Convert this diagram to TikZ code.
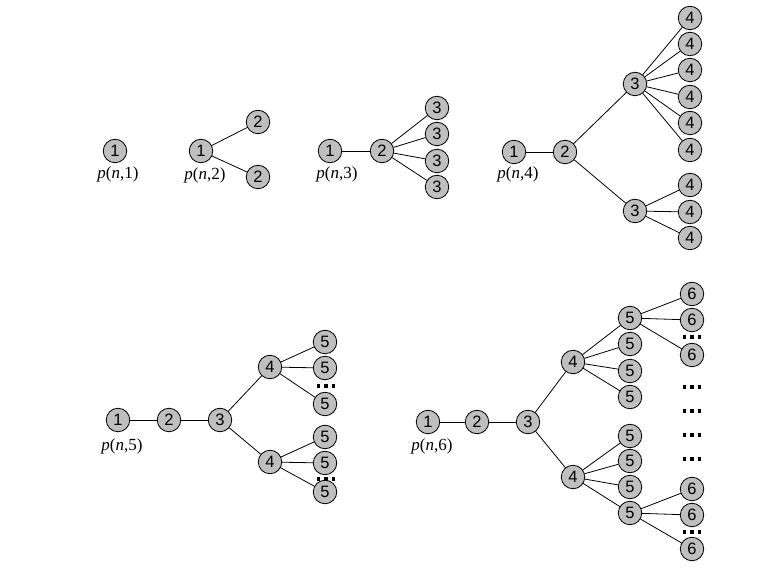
\documentclass[tikz,border=0pt]{standalone}
\usepackage{fontspec}
\setmainfont{Liberation Serif}
\setsansfont{Liberation Sans}
% three square dots standing for omitted leaves
\newcommand{\gapdots}[2]{\foreach \dx in {-7.5,0,7.5}{\fill (#1+\dx-1.7,#2-1.7) rectangle +(3.4,3.4);}}
\begin{document}
\begin{tikzpicture}[x=1pt,y=-1pt,line cap=round,line join=round,
  vtx/.style={circle,draw,fill=gray!50,line width=0.8pt,minimum size=23.5pt,inner sep=0pt,
    font=\sffamily\fontsize{16.5}{16.5}\selectfont},
  lbl/.style={font=\fontsize{17}{17}\selectfont},
  edge/.style={line width=0.8pt}]
\useasboundingbox (0,0) rectangle (772,569);

% p(n,1)
\node[vtx] (A1) at (115,151) {1};
\node[lbl] at (118,174) {\textit{p}(\textit{n},1)};

% p(n,2)
\node[vtx] (B1) at (201,151) {1};
\node[vtx] (B2) at (258,122) {2};
\node[vtx] (B3) at (258,177) {2};
\draw[edge] (B1)--(B2);
\draw[edge] (B1)--(B3);
\node[lbl] at (205,175) {\textit{p}(\textit{n},2)};

% p(n,3)
\node[vtx] (C1) at (330,151) {1};
\node[vtx] (C2) at (382,151) {2};
\draw[edge] (C1)--(C2);
\foreach \y [count=\i] in {108,134,161,187}
  {\node[vtx] (C2\i) at (437,\y) {3}; \draw[edge] (C2)--(C2\i);}
\node[lbl] at (337,174) {\textit{p}(\textit{n},3)};

% p(n,4)
\node[vtx] (D1) at (514,152) {1};
\node[vtx] (D2) at (565,152) {2};
\node[vtx] (D3) at (635,84) {3};
\node[vtx] (D4) at (635,211) {3};
\draw[edge] (D1)--(D2);
\draw[edge] (D2)--(D3);
\draw[edge] (D2)--(D4);
\foreach \y [count=\i] in {18,44,70,97,123,150}
  {\node[vtx] (D3\i) at (690,\y) {4}; \draw[edge] (D3)--(D3\i);}
\foreach \y [count=\i] in {185,212,238}
  {\node[vtx] (D4\i) at (690,\y) {4}; \draw[edge] (D4)--(D4\i);}
\node[lbl] at (518,174) {\textit{p}(\textit{n},4)};

% p(n,5)
\node[vtx] (E1) at (118,420) {1};
\node[vtx] (E2) at (169,420) {2};
\node[vtx] (E3) at (220,420) {3};
\node[vtx] (E4) at (270,367) {4};
\node[vtx] (E5) at (270,462) {4};
\draw[edge] (E1)--(E2);
\draw[edge] (E2)--(E3);
\draw[edge] (E3)--(E4);
\draw[edge] (E3)--(E5);
\foreach \y [count=\i] in {342,368,404}
  {\node[vtx] (E4\i) at (325,\y) {5}; \draw[edge] (E4)--(E4\i);}
\foreach \y [count=\i] in {437,463,492}
  {\node[vtx] (E5\i) at (325,\y) {5}; \draw[edge] (E5)--(E5\i);}
\gapdots{326}{386}
\gapdots{326}{479}
\node[lbl] at (122,446) {\textit{p}(\textit{n},5)};

% p(n,6)
\node[vtx] (F1) at (428,422) {1};
\node[vtx] (F2) at (477,422) {2};
\node[vtx] (F3) at (528,422) {3};
\node[vtx] (F4) at (573,362) {4};
\node[vtx] (F5) at (573,477) {4};
\draw[edge] (F1)--(F2);
\draw[edge] (F2)--(F3);
\draw[edge] (F3)--(F4);
\draw[edge] (F3)--(F5);
\foreach \y [count=\i] in {318,344,371,397}
  {\node[vtx] (F4\i) at (630,\y) {5}; \draw[edge] (F4)--(F4\i);}
\foreach \y [count=\i] in {436,461,487,513}
  {\node[vtx] (F5\i) at (630,\y) {5}; \draw[edge] (F5)--(F5\i);}
\foreach \y [count=\i] in {294,320,355}
  {\node[vtx] (G1\i) at (692,\y) {6}; \draw[edge] (F41)--(G1\i);}
\foreach \y [count=\i] in {489,515,549}
  {\node[vtx] (G2\i) at (692,\y) {6}; \draw[edge] (F54)--(G2\i);}
\foreach \y in {337,387,411,435,459,532}
  {\gapdots{692}{\y}}
\node[lbl] at (432,446) {\textit{p}(\textit{n},6)};

\end{tikzpicture}
\end{document}
